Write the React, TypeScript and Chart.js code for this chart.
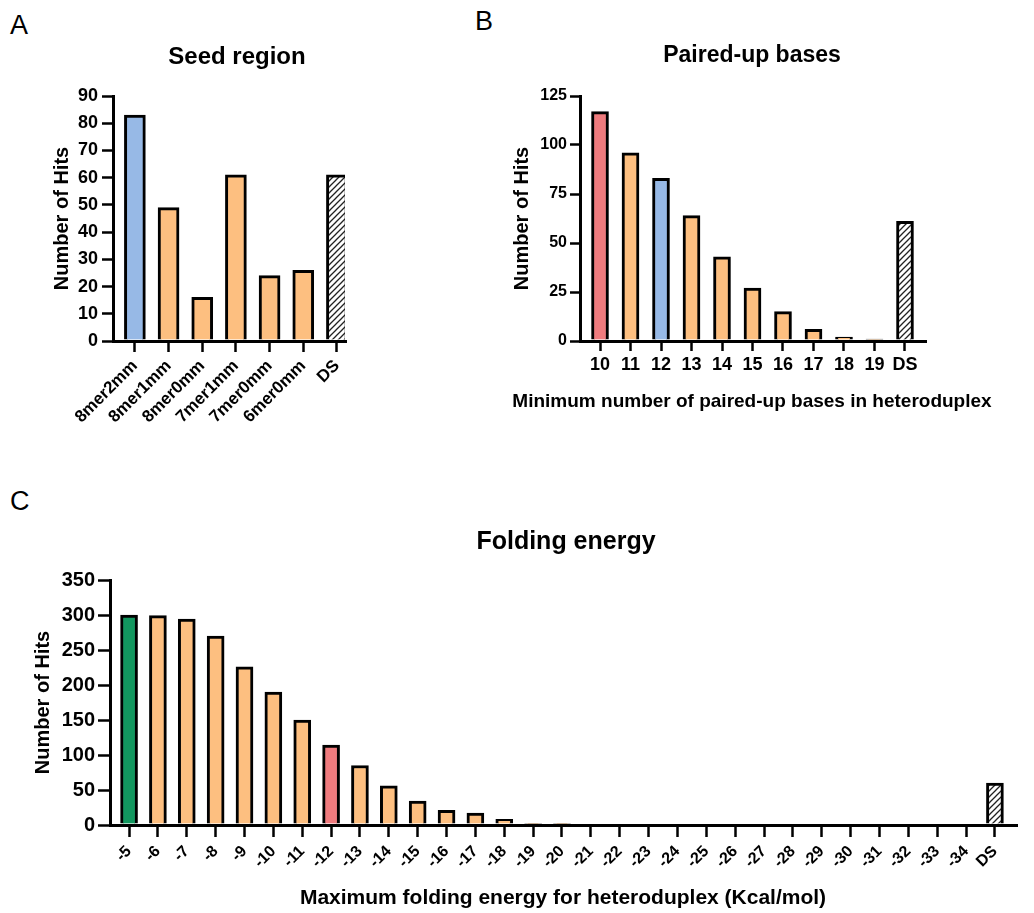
import React, { useEffect, useRef } from "react";
import { Chart, registerables } from "chart.js";

Chart.register(...registerables);

// ---------- data ----------
const seedLabels = ["8mer2mm", "8mer1mm", "8mer0mm", "7mer1mm", "7mer0mm", "6mer0mm", "DS"];
const seedValues = [83, 49, 16, 61, 24, 26, 61];
const seedKinds = ["blue", "orange", "orange", "orange", "orange", "orange", "hatch"];

const pairedLabels = ["10", "11", "12", "13", "14", "15", "16", "17", "18", "19", "DS"];
const pairedValues = [117, 96, 83, 64, 43, 27, 15, 6, 2, 1, 61];
const pairedKinds = ["red", "orange", "blue", "orange", "orange", "orange", "orange", "orange", "orange", "orange", "hatch"];

const foldLabels = [
  "-5", "-6", "-7", "-8", "-9", "-10", "-11", "-12", "-13", "-14", "-15", "-16", "-17", "-18", "-19", "-20",
  "-21", "-22", "-23", "-24", "-25", "-26", "-27", "-28", "-29", "-30", "-31", "-32", "-33", "-34", "DS",
];
const foldValues = [
  300, 299, 294, 270, 226, 190, 150, 114, 85, 56, 34, 21, 17, 8, 2, 2,
  0, 0, 0, 0, 0, 0, 0, 0, 0, 0, 0, 0, 0, 0, 60,
];
const foldKinds = [
  "green", "orange", "orange", "orange", "orange", "orange", "orange", "red", "orange", "orange", "orange",
  "orange", "orange", "orange", "orange", "orange", "orange", "orange", "orange", "orange", "orange",
  "orange", "orange", "orange", "orange", "orange", "orange", "orange", "orange", "orange", "hatch",
];

const COLORS: Record<string, string> = {
  blue: "#97B9E6",
  orange: "#FDBF80",
  red: "#EF7B7E",
  green: "#12975F",
};

const FONT = "'Liberation Sans', Arial, Helvetica, sans-serif";

function makeHatch(): CanvasPattern | string {
  const c = document.createElement("canvas");
  c.width = 6;
  c.height = 6;
  const g = c.getContext("2d");
  if (!g) return "#fff";
  g.fillStyle = "#fff";
  g.fillRect(0, 0, 6, 6);
  g.strokeStyle = "#222";
  g.lineWidth = 1.3;
  g.beginPath();
  g.moveTo(0, 6);
  g.lineTo(6, 0);
  g.moveTo(-1, 1);
  g.lineTo(1, -1);
  g.moveTo(5, 7);
  g.lineTo(7, 5);
  g.stroke();
  return g.createPattern(c, "repeat") || "#fff";
}

type PanelProps = {
  labels: string[];
  values: number[];
  kinds: string[];
  title: string;
  titleFont: number;
  yTitle: string;
  xTitle?: string;
  xTitleSub?: boolean;
  xTitleFont: number;
  yMax: number;
  yStep: number;
  box: { left: number; top: number; width: number; height: number };
  yAxisWidth: number;
  rightWidth: number;
  xAxisHeight: number;
  titlePad: { top: number; bottom: number };
  yTitlePad: number;
  xTitlePad: number;
  xRange: [number, number];
  barThickness: number;
  rotation: number;
  xFont: number;
  yFont: number;
  tickLen: number;
  yTickPad: number;
  xTickPad: number;
};

function Panel(p: PanelProps) {
  const ref = useRef<HTMLCanvasElement>(null);
  useEffect(() => {
    const canvas = ref.current;
    if (!canvas) return;
    const hatch = makeHatch();
    const bg = p.kinds.map((k) => (k === "hatch" ? hatch : COLORS[k]));
    const n = p.labels.length;
    const chart = new Chart(canvas, {
      type: "bar",
      data: {
        datasets: [
          {
            data: p.values.map((v, i) => ({ x: i, y: v })),
            backgroundColor: bg as any,
            borderColor: "#000",
            borderWidth: 3,
            borderSkipped: "start",
            barThickness: p.barThickness,
            xAxisID: "x",
            yAxisID: "y",
          } as any,
        ],
      },
      options: {
        responsive: false,
        animation: false,
        devicePixelRatio: 1,
        layout: { padding: 0 },
        plugins: {
          legend: { display: false },
          tooltip: { enabled: false },
          title: {
            display: true,
            text: p.title,
            color: "#000",
            font: { family: FONT, size: p.titleFont, weight: "bold" },
            padding: p.titlePad,
          },
          subtitle: {
            display: !!p.xTitleSub,
            position: "bottom",
            text: p.xTitle || "",
            color: "#000",
            font: { family: FONT, size: p.xTitleFont, weight: "bold" },
            padding: { top: 0, bottom: p.xTitlePad },
          },
        },
        scales: {
          x: {
            type: "linear",
            position: "bottom",
            offset: false,
            min: p.xRange[0],
            max: p.xRange[1],
            afterBuildTicks: (s: any) => {
              s.ticks = p.labels.map((_, i) => ({ value: i }));
            },
            afterFit: (s: any) => {
              s.height = p.xAxisHeight;
            },
            ticks: {
              autoSkip: false,
              minRotation: p.rotation,
              maxRotation: p.rotation,
              color: "#000",
              padding: p.xTickPad,
              font: { family: FONT, size: p.xFont, weight: "bold" },
              callback: (v: any) => (Number.isInteger(v) && v >= 0 && v < n ? p.labels[v] : ""),
            },
            grid: {
              display: true,
              offset: false,
              drawOnChartArea: false,
              drawTicks: true,
              tickLength: p.tickLen,
              tickWidth: 2.5,
              tickColor: "#000",
              color: "#000",
              lineWidth: 3,
            },
            border: { display: true, color: "#000", width: 3 },
            title: {
              display: !p.xTitleSub && !!p.xTitle,
              text: p.xTitle || "",
              color: "#000",
              font: { family: FONT, size: p.xTitleFont, weight: "bold" },
              padding: { top: 0, bottom: p.xTitlePad },
            },
          },
          y: {
            type: "linear",
            position: "left",
            min: 0,
            max: p.yMax,
            afterFit: (s: any) => {
              s.width = p.yAxisWidth;
            },
            ticks: {
              stepSize: p.yStep,
              color: "#000",
              padding: p.yTickPad,
              font: { family: FONT, size: p.yFont, weight: "bold" },
            },
            grid: {
              display: true,
              drawOnChartArea: false,
              drawTicks: true,
              tickLength: p.tickLen,
              tickWidth: 2.5,
              tickColor: "#000",
              color: "#000",
              lineWidth: 3,
            },
            border: { display: true, color: "#000", width: 3 },
            title: {
              display: true,
              text: p.yTitle,
              color: "#000",
              font: { family: FONT, size: 20, weight: "bold" },
              padding: { top: p.yTitlePad, bottom: 0 },
            },
          },
          yR: {
            type: "linear",
            position: "right",
            display: true,
            grid: { display: false },
            ticks: { display: false },
            border: { display: false },
            afterFit: (s: any) => {
              s.width = p.rightWidth;
            },
          },
        },
      } as any,
    });
    return () => chart.destroy();
  }, []);
  return (
    <canvas
      ref={ref}
      width={p.box.width}
      height={p.box.height}
      style={{
        position: "absolute",
        left: p.box.left,
        top: p.box.top,
        width: p.box.width,
        height: p.box.height,
      }}
    />
  );
}

const letterStyle: React.CSSProperties = {
  position: "absolute",
  fontFamily: FONT,
  fontSize: 27,
  lineHeight: 1,
  color: "#000",
};

export default function App() {
  return (
    <div
      style={{
        position: "fixed",
        left: 0,
        top: 0,
        width: 1034,
        height: 913,
        overflow: "hidden",
        background: "#fff",
      }}
    >
      <div style={{ ...letterStyle, left: 10, top: 12 }}>A</div>
      <div style={{ ...letterStyle, left: 475, top: 8 }}>B</div>
      <div style={{ ...letterStyle, left: 10, top: 488 }}>C</div>
      <Panel
        labels={seedLabels}
        values={seedValues}
        kinds={seedKinds}
        title="Seed region"
        titleFont={24}
        yTitle="Number of Hits"
        xTitleFont={19}
        yMax={90}
        yStep={10}
        box={{ left: 0, top: 30, width: 474, height: 420 }}
        yAxisWidth={113}
        rightWidth={129}
        xAxisHeight={109}
        titlePad={{ top: 12.6, bottom: 24.6 }}
        yTitlePad={50}
        xTitlePad={0}
        xRange={[-0.65, 6.24]}
        barThickness={21}
        rotation={45}
        xFont={17}
        yFont={18}
        tickLen={11}
        yTickPad={4}
        xTickPad={4}
      />
      <Panel
        labels={pairedLabels}
        values={pairedValues}
        kinds={pairedKinds}
        title="Paired-up bases"
        titleFont={23}
        yTitle="Number of Hits"
        xTitle="Minimum number of paired-up bases in heteroduplex"
        xTitleSub={true}
        xTitleFont={19}
        yMax={125}
        yStep={25}
        box={{ left: 470, top: 30, width: 564, height: 420 }}
        yAxisWidth={110}
        rightWidth={109}
        xAxisHeight={49.6}
        titlePad={{ top: 12.2, bottom: 26.2 }}
        yTitlePad={40}
        xTitlePad={36.6}
        xRange={[-0.656, 10.656]}
        barThickness={17}
        rotation={0}
        xFont={18}
        yFont={16}
        tickLen={10}
        yTickPad={3}
        xTickPad={3}
      />
      <Panel
        labels={foldLabels}
        values={foldValues}
        kinds={foldKinds}
        title="Folding energy"
        titleFont={25}
        yTitle="Number of Hits"
        xTitle="Maximum folding energy for heteroduplex (Kcal/mol)"
        xTitleFont={21}
        yMax={350}
        yStep={50}
        box={{ left: 0, top: 520, width: 1132, height: 393 }}
        yAxisWidth={110}
        rightWidth={116}
        xAxisHeight={88}
        titlePad={{ top: 7, bottom: 23 }}
        yTitlePad={31}
        xTitlePad={2.4}
        xRange={[-0.66, 30.73]}
        barThickness={17}
        rotation={45}
        xFont={16}
        yFont={20}
        tickLen={12}
        yTickPad={3}
        xTickPad={5}
      />
    </div>
  );
}
